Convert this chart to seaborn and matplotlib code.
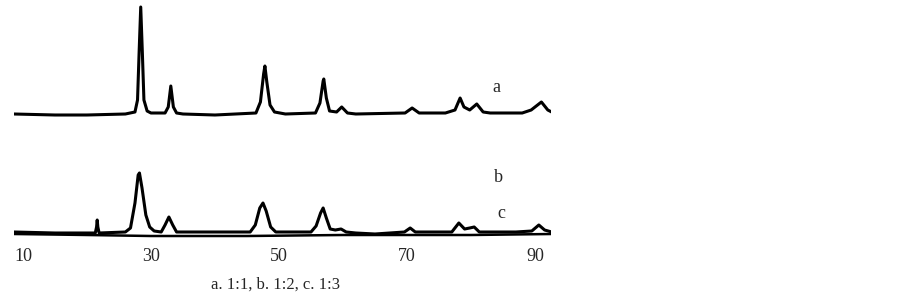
import numpy as np
import pandas as pd
import matplotlib.pyplot as plt
import seaborn as sns

# curve a (1:1) - traced points, 2theta vs height above its baseline
a_x = [8.6, 15, 20, 26, 27.5, 27.9, 28.15, 28.4, 28.65, 28.9, 29.4, 30, 32.2, 32.7, 33.1, 33.5, 34.0,
       35, 40, 46.4, 47.1, 47.6, 47.8, 48.1, 48.6, 49.3, 51, 55.7, 56.4, 56.9, 57.0, 57.4, 57.9,
       59.0, 59.8, 60.7, 62, 69.7, 70.8, 71.9, 76, 77.5, 78.3, 78.9, 79.8, 80.9, 81.9, 83, 88,
       89.4, 91.0, 92.0, 92.6]
a_y = [0, -1, -1, 0, 2, 14, 62, 107, 62, 14, 3, 1, 1, 7, 28, 7, 1,
       0, -1, 1, 12, 40, 48, 32, 9, 2, 0, 1, 11, 33, 35, 16, 3,
       2, 7, 1, 0, 1, 6, 1, 1, 4, 16, 7, 4, 10, 2, 1, 1,
       4, 12, 4, 2]

# curve b (1:2)
b_x = [8.6, 15, 21.3, 21.5, 21.6, 21.7, 21.9, 26, 26.8, 27.5, 28.0, 28.2, 28.6, 29.2, 29.8, 30.5,
       31.6, 32.2, 32.8, 33.4, 34, 45.5, 46.3, 47.0, 47.5, 48.0, 48.7, 49.5, 55, 55.8, 56.5, 56.9,
       57.4, 58.0, 58.8, 59.7, 60.5, 62, 65, 69.6, 70.5, 71.3, 77, 78.1, 79.0, 79.8, 80.5, 81.3,
       87, 89.5, 90.6, 91.5, 92.6]
b_y = [1, 0, 0, 6, 13, 6, 0, 1, 5, 30, 58, 60, 45, 18, 6, 2,
       1, 8, 16, 8, 1, 1, 8, 25, 30, 22, 6, 1, 1, 7, 20, 25,
       15, 4, 3, 4, 1, 0, -1, 1, 5, 1, 1, 10, 4, 5, 6, 1,
       1, 2, 8, 3, 1]

# curve c (1:3)
c_x = [8.6, 20, 30, 45, 60, 70, 80, 92.6]
c_y = [-1, -2, -3, -3, -2, -2, -2, -1]

offset_a = 183
offset_bc = 64

sns.set_style("white")
plt.rcParams['font.family'] = ['Liberation Serif', 'DejaVu Serif']

fig = plt.figure(figsize=(9.03, 2.97), dpi=100)
ax = fig.add_axes([14 / 903, 57 / 297, 537 / 903, 240 / 297])

sns.lineplot(x=a_x, y=np.array(a_y) + offset_a, ax=ax, color="black", lw=2.2)
sns.lineplot(x=b_x, y=np.array(b_y) + offset_bc, ax=ax, color="black", lw=2.2)
sns.lineplot(x=c_x, y=np.array(c_y) + offset_bc, ax=ax, color="black", lw=1.8)

ax.text(83.9, 297 - 88, "a", fontsize=13, ha="center", va="center")
ax.text(84.3, 297 - 178, "b", fontsize=13, ha="center", va="center")
ax.text(84.8, 297 - 214, "c", fontsize=13, ha="center", va="center")

ax.set_xlim(8.6, 92.5)
ax.set_ylim(57, 297)
ax.set_xticks([10, 30, 50, 70, 90])
ax.set_xticklabels(["10", "30", "50", "70", "90"], fontsize=13)
ax.tick_params(axis="x", length=0, pad=6)
ax.set_yticks([])
for s in ax.spines.values():
    s.set_visible(False)

fig.text(276 / 903, 1 - 285 / 297, "a. 1:1, b. 1:2, c. 1:3", fontsize=12,
         ha="center", va="center")

plt.savefig("out.png", dpi=100)
